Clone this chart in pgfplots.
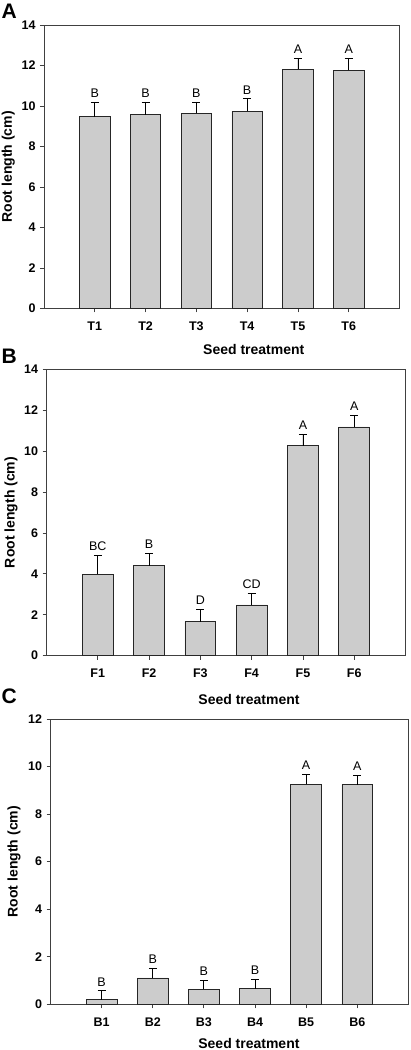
\documentclass[border=0pt]{standalone}
\usepackage{fontspec}
\setmainfont{Liberation Sans}
\usepackage{pgfplots}
\usepackage{pgfplotstable}
\pgfplotsset{compat=1.18}

\pgfplotstableread{
x y err lab
1 9.47 0.71 B
2 9.57 0.63 B
3 9.64 0.56 B
4 9.75 0.61 B
5 11.81 0.53 A
6 11.76 0.58 A
}\dataA
\pgfplotstableread{
x y err lab
1 3.99 0.91 BC
2 4.40 0.59 B
3 1.66 0.62 D
4 2.48 0.58 CD
5 10.27 0.57 A
6 11.18 0.57 A
}\dataB
\pgfplotstableread{
x y err lab
1 0.20 0.37 B
2 1.11 0.39 B
3 0.63 0.37 B
4 0.66 0.39 B
5 9.25 0.41 A
6 9.24 0.38 A
}\dataC

\newcommand{\labfont}{\bfseries\fontsize{14}{16}\selectfont}
\pgfplotsset{
  panel/.style={
    scale only axis,
    anchor=south west,
    xmin=0, xmax=7, ymin=0,
    xtick={1,2,3,4,5,6},
    tick pos=left,
    tick align=outside,
    major tick length=4pt,
    axis line style={draw=black!75, line width=0.8pt},
    every tick/.style={draw=black!75, line width=0.8pt},
    ticklabel style={font=\bfseries\fontsize{12.5}{14}\selectfont},
    yticklabel={\pgfmathprintnumber[assume math mode=true]{\tick}},
    yticklabel style={xshift=-1pt},
    xticklabel style={yshift=-6pt},
    every axis y label/.style={at={([xshift=-32pt]axis description cs:0,0.5)}, anchor=base, rotate=90, font=\labfont},
    ylabel={Root length (cm)},
    xlabel={Seed treatment},
  },
  bars/.style={ybar, bar width=0.6, fill=black!20, draw=black!85, line width=0.8pt,
    error bars/y dir=plus, error bars/y explicit,
    error bars/error mark=-,
    error bars/error bar style={line width=0.8pt, black},
    error bars/error mark options={rotate=90, black, mark size=4pt, line width=0.8pt}},
  lets/.style={draw=none, mark=none, nodes near coords, point meta=explicit symbolic,
    every node near coord/.style={font=\fontsize{12.5}{14}\selectfont, text=black, anchor=south, inner sep=0pt, yshift=4.5pt}},
}

\begin{document}
\begin{tikzpicture}
\useasboundingbox (0,0) rectangle (411pt,1050pt);
% Panel A
\begin{axis}[panel, at={(44pt,741.5pt)}, width=355.5pt, height=283.5pt,
  ymax=14, ytick={0,2,...,14},
  xticklabels={T1,T2,T3,T4,T5,T6},
  every axis x label/.style={at={([xshift=32pt,yshift=-45.8pt]axis description cs:0.5,0)}, anchor=base, font=\labfont}]
\addplot[bars] table[x=x, y=y, y error=err] {\dataA};
\addplot[lets] table[x=x, y expr=\thisrow{y}+\thisrow{err}, meta=lab] {\dataA};
\end{axis}
% Panel B
\begin{axis}[panel, at={(46.5pt,394.3pt)}, width=359pt, height=286.4pt,
  ymax=14, ytick={0,2,...,14},
  xticklabels={F1,F2,F3,F4,F5,F6},
  every axis x label/.style={at={([xshift=23pt,yshift=-49.3pt]axis description cs:0.5,0)}, anchor=base, font=\labfont}]
\addplot[bars] table[x=x, y=y, y error=err] {\dataB};
\addplot[lets] table[x=x, y expr=\thisrow{y}+\thisrow{err}, meta=lab] {\dataB};
\end{axis}
% Panel C
\begin{axis}[panel, at={(50.5pt,45.7pt)}, width=357.9pt, height=285.3pt,
  ymax=12, ytick={0,2,...,12},
  xticklabels={B1,B2,B3,B4,B5,B6},
  every axis y label/.style={at={([xshift=-33pt]axis description cs:0,0.5)}, anchor=base, rotate=90, font=\labfont},
  every axis x label/.style={at={([xshift=19.5pt,yshift=-43.7pt]axis description cs:0.5,0)}, anchor=base, font=\labfont}]
\addplot[bars] table[x=x, y=y, y error=err] {\dataC};
\addplot[lets] table[x=x, y expr=\thisrow{y}+\thisrow{err}, meta=lab] {\dataC};
\end{axis}
\node[anchor=base west, inner sep=0pt, font=\bfseries\fontsize{21}{24}\selectfont] at (1.5pt,1031.7pt) {A};
\node[anchor=base west, inner sep=0pt, font=\bfseries\fontsize{21}{24}\selectfont] at (1.5pt,686.7pt) {B};
\node[anchor=base west, inner sep=0pt, font=\bfseries\fontsize{21}{24}\selectfont] at (1.5pt,346pt) {C};
\end{tikzpicture}
\end{document}
